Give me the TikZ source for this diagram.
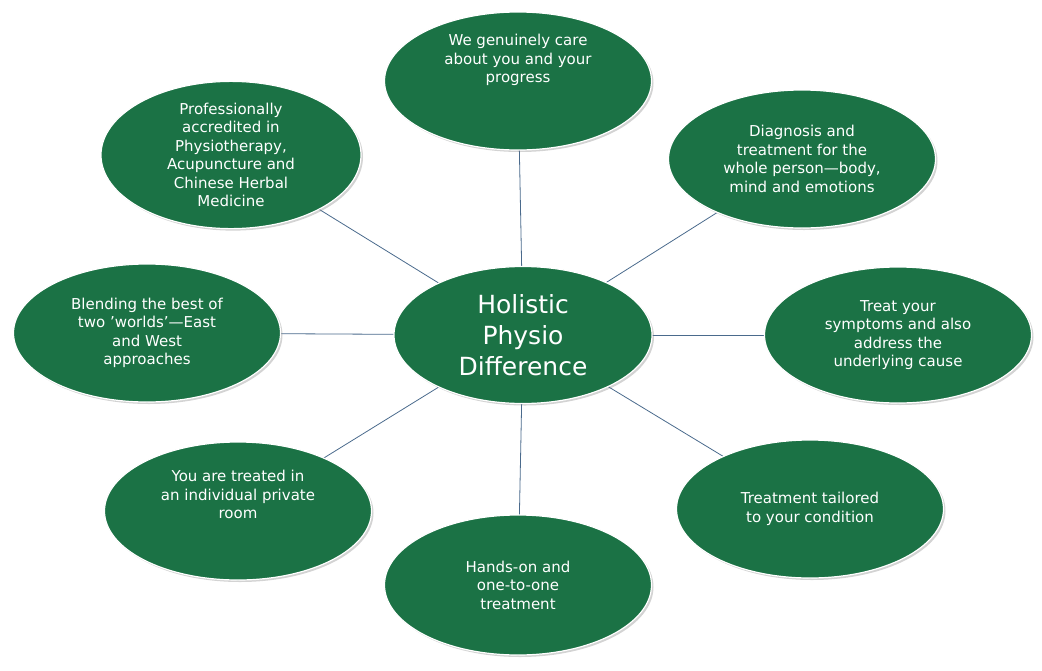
\documentclass[tikz,border=0pt]{standalone}
\usepackage{fontspec}
\setmainfont{DejaVu Sans}
\usetikzlibrary{shapes.geometric,shadows}
\definecolor{eg}{HTML}{1B7245}
\definecolor{ln}{HTML}{4A6A8C}
\begin{document}
\begin{tikzpicture}[x=1pt,y=-1pt,
 bub/.style={ellipse,fill=eg,draw=white,line width=1.2pt,minimum width=#1,inner sep=0pt,text=white,align=center,
   font=\fontsize{15}{18.5}\selectfont,drop shadow={opacity=0.35,shadow xshift=2pt,shadow yshift=-2pt}},
 bub/.default={267pt},
 conn/.style={draw=ln,line width=0.8pt}]
\useasboundingbox (0,0) rectangle (1042,670);
\coordinate (cc) at (523,335);
\coordinate (p1) at (518,81);
\coordinate (p2) at (802,159);
\coordinate (p3) at (898,335);
\coordinate (p4) at (810,509);
\coordinate (p5) at (518,585);
\coordinate (p6) at (238,511);
\coordinate (p7) at (147,333);
\coordinate (p8) at (231,155);
\foreach \p in {p1,p2,p3,p4,p5,p6,p7,p8} \draw[conn] (cc) -- (\p);
\node[bub,minimum height=138pt] (n1) at (p1) {We genuinely care\\about you and your\\progress\\[26pt]};
\node[bub,minimum height=138pt] (n2) at (p2) {Diagnosis and\\treatment for the\\whole person—body,\\mind and emotions};
\node[bub,minimum height=136pt] (n3) at (p3) {Treat your\\symptoms and also\\address the\\underlying cause};
\node[bub,minimum height=138pt] (n4) at (p4) {Treatment tailored\\to your condition};
\node[bub,minimum height=140pt] (n5) at (p5) {Hands-on and\\one-to-one\\treatment};
\node[bub,minimum height=138pt] (n6) at (p6) {You are treated in\\an individual private\\room\\[14pt]};
\node[bub,minimum height=138pt] (n7) at (p7) {Blending the best of\\two 'worlds'—East\\and West\\approaches};
\node[bub=260pt,minimum height=140pt] (n8) at (p8) {Professionally\\accredited in\\Physiotherapy,\\Acupuncture and\\Chinese Herbal\\Medicine};
\node[bub=258pt,minimum height=137pt,font=\fontsize{25}{31}\selectfont] (c) at (cc) {Holistic\\Physio\\Difference};
\end{tikzpicture}
\end{document}
